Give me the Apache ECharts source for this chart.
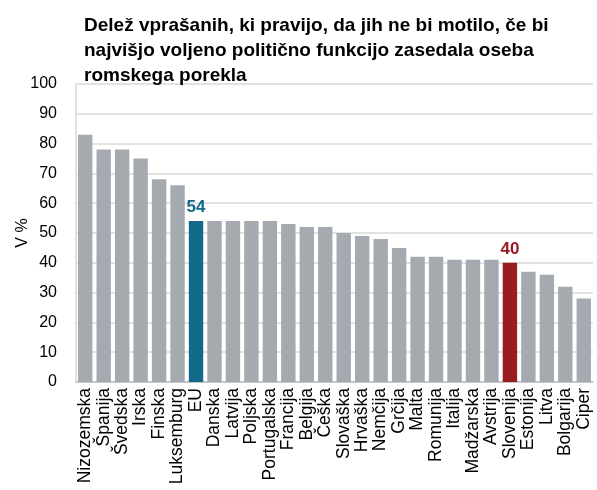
<!DOCTYPE html>
<html>
<head>
    <meta charset="utf-8" />
    <title>ECharts</title>
    <script src="https://cdn.jsdelivr.net/npm/echarts@6/dist/echarts.min.js"></script>
</head>
<style>
    body { margin: 0; background: #fff; }
</style>
<body>
    <div id="main" style="width: 597px;height:490px;"></div>
    <script type="text/javascript">
        // države in delež (v %)
        var categories = ['Nizozemska', 'Španija', 'Švedska', 'Irska', 'Finska', 'Luksemburg', 'EU',
            'Danska', 'Latvija', 'Poljska', 'Portugalska', 'Francija', 'Belgija', 'Češka', 'Slovaška',
            'Hrvaška', 'Nemčija', 'Grčija', 'Malta', 'Romunija', 'Italija', 'Madžarska', 'Avstrija',
            'Slovenija', 'Estonija', 'Litva', 'Bolgarija', 'Ciper'];
        var values = [83, 78, 78, 75, 68, 66, 54, 54, 54, 54, 54, 53, 52, 52, 50,
            49, 48, 45, 42, 42, 41, 41, 41, 40, 37, 36, 32, 28];
        var yTicks = [0, 10, 20, 30, 40, 50, 60, 70, 80, 90, 100];

        var highlight = {
            'EU': '#12698a',
            'Slovenija': '#9b1c20'
        };

        var myChart = echarts.init(document.getElementById('main'));

        var data = values.map(function (v, i) {
            var c = highlight[categories[i]];
            var item = { value: v };
            if (c) {
                item.itemStyle = { color: c };
                item.label = {
                    show: true,
                    position: 'top',
                    color: c,
                    fontWeight: 'bold',
                    fontSize: 17,
                    distance: 5
                };
            }
            return item;
        });

        var option = {
            animation: false,
            textStyle: { fontFamily: 'Liberation Sans' },
            title: {
                text: 'Delež vprašanih, ki pravijo, da jih ne bi motilo, če bi\nnajvišjo voljeno politično funkcijo zasedala oseba\nromskega porekla',
                left: 79,
                top: 8,
                textStyle: {
                    fontSize: 19,
                    fontWeight: 'bold',
                    color: '#000',
                    lineHeight: 25,
                    fontFamily: 'Liberation Sans'
                }
            },
            grid: {
                left: 76,
                right: 4,
                top: 84,
                bottom: 108,
                outerBoundsMode: 'none'
            },
            xAxis: {
                type: 'category',
                data: categories,
                axisLine: { lineStyle: { color: '#bfbfbf', width: 1.5 } },
                axisTick: { show: false },
                axisLabel: {
                    rotate: 90,
                    interval: 0,
                    fontSize: 17.5,
                    color: '#000',
                    margin: 6
                }
            },
            yAxis: {
                type: 'value',
                min: yTicks[0],
                max: yTicks[yTicks.length - 1],
                interval: 10,
                name: 'V %',
                nameLocation: 'middle',
                nameRotate: 90,
                nameGap: 45,
                nameMoveOverlap: false,
                nameTextStyle: { fontSize: 16, color: '#000' },
                axisLine: { show: true, lineStyle: { color: '#d9d9d9', width: 1.5 } },
                axisTick: { show: false },
                axisLabel: { fontSize: 16, color: '#000', margin: 19 },
                splitLine: { lineStyle: { color: '#d9d9d9', width: 1.5 } }
            },
            series: [{
                name: 'V %',
                type: 'bar',
                data: data,
                barCategoryGap: '22%',
                itemStyle: { color: '#a5aab0' }
            }]
        };

        myChart.setOption(option);
    </script>
</body>
</html>
